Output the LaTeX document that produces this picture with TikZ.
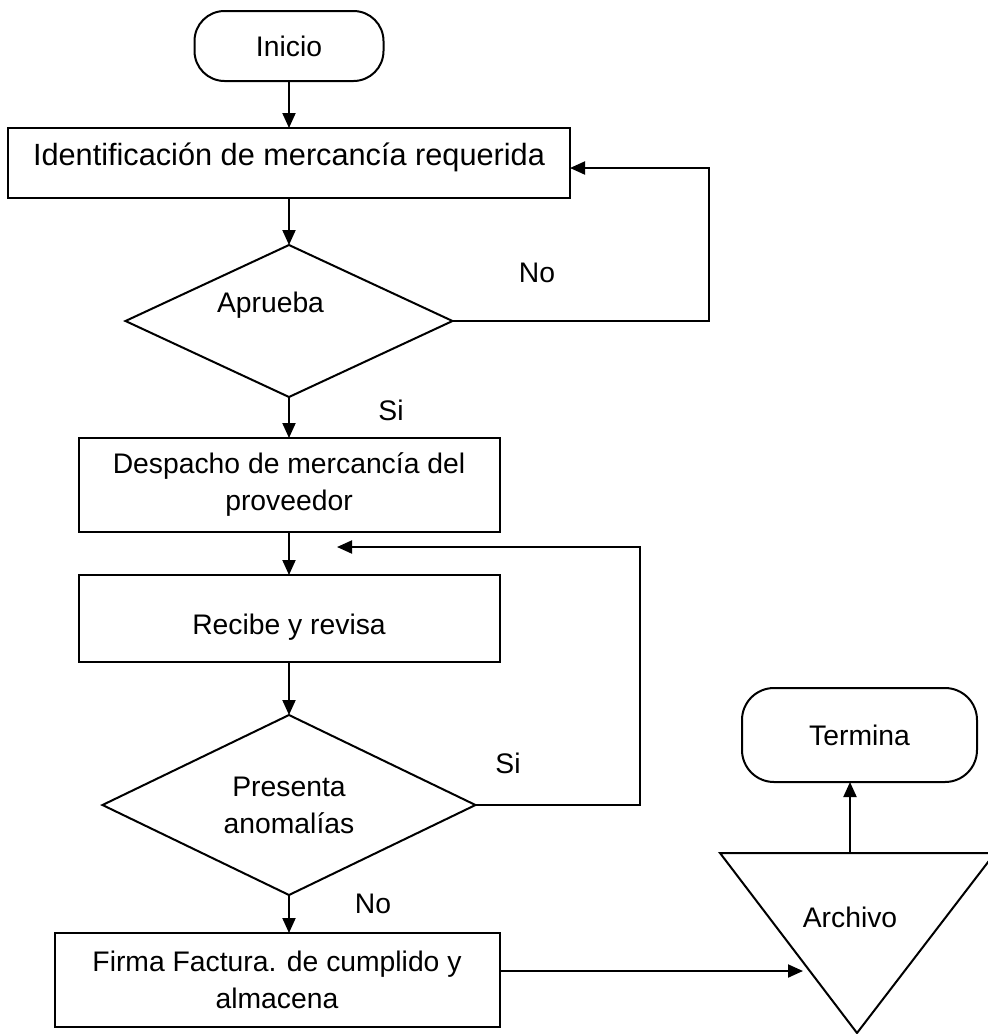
\documentclass[tikz,border=0pt]{standalone}
\usepackage{fontspec}
\setmainfont{Liberation Sans}
\usetikzlibrary{arrows.meta,shapes,positioning}
\tikzset{FLOW style/.style={>={Triangle[length=7.5pt,width=6.5pt]},line width=1pt,every node/.style={font=\fontsize{14.15}{18.5}\selectfont,outer sep=0}}}

\begin{document}
\begin{tikzpicture}[x=0.5pt,y=-0.5pt,FLOW style]
	\tikzstyle{proc}=[draw,rectangle,align=center,minimum height=47pt,inner sep=0]
	\tikzstyle{term}=[draw,rectangle,rounded corners=15pt,minimum width=94.5pt,minimum height=35pt]
	\tikzstyle{decis}=[draw,diamond,aspect=2,align=center,inner sep=0]

	\useasboundingbox (0,0) rectangle (988,1034);

	% main column
	\node[term] (0) at (289,46) {Inicio};
	\node[proc] [below = 23.5pt of 0, minimum width=281pt, minimum height=35pt, text depth=9pt, font=\fontsize{15.35}{18.5}\selectfont] (1) {Identificación de mercancía requerida};
	\node[decis] [below = 23.5pt of 1, minimum width=163.5pt, minimum height=76pt, label={[shift={(-9.25pt,8pt)}]center:Aprueba}] (2) {};
	\node[proc] [below = 20.5pt of 2, minimum width=210.5pt] (3) {Despacho de mercancía del\\proveedor};
	\node[proc] [below = 21.5pt of 3, minimum width=210.5pt, minimum height=43.5pt, text height=18.5pt, text depth=3pt] (4) {Recibe y revisa};
	\node[decis] [below = 26.5pt of 4, minimum width=186.5pt, minimum height=90pt] (5) {Presenta\\anomalías};
	\node[proc] [below = 19pt of 5, xshift=-6pt, minimum width=222.5pt] (6) {Firma Factura. de cumplido y\\almacena};

	% archivo y fin
	\coordinate (7l) at (720,853);
	\coordinate (7r) at (995,853);
	\coordinate (7a) at (857,1033);
	\draw (7l) -- (7r) -- (7a) -- cycle;
	\node (7) at (850,917) {Archivo};
	\coordinate (7top) at (850,853);
	\coordinate (7in) at (803,971);
	\node[term, minimum width=117.5pt, minimum height=47pt, rounded corners=16pt] (8) at (859.5,735) {Termina};

	\coordinate (4in) at (337,547);

	\node (no1) at (537,273) {No};
	\node (si1) at (391,410) {Si};
	\node (si2) at (508,763) {Si};
	\node (no2) at (373,904) {No};

	\path[->]
	(0) edge (1)
	(1) edge (2)
	(2) edge (3)
	(3) edge (4)
	(4) edge (5)
	;
	\draw[->] (5.south) -- (5.south |- 6.north);
	\draw[->] (2.east) -- ++(256,0) |- ([yshift=-2.5pt]1.east);
	\draw[->] (5.east) -- ++(164,0) |- (4in);
	\draw[->] (6.east |- 7in) -- (7in);
	\draw[->] (7top) -- (7top |- 8.south);

\end{tikzpicture}
\end{document}
